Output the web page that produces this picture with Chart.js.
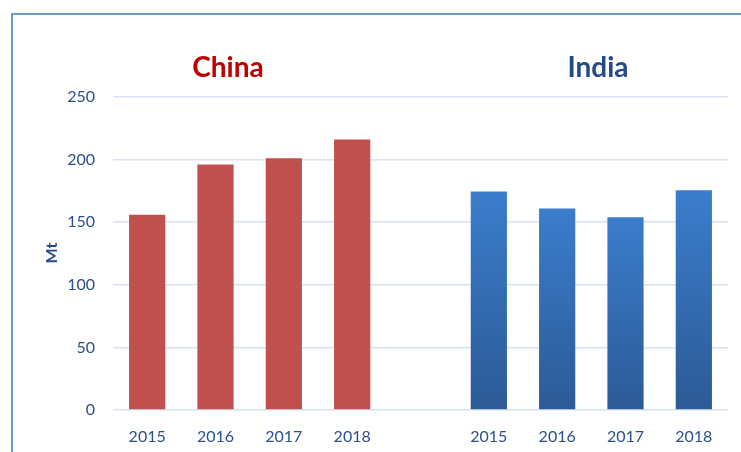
<!DOCTYPE html>
<html>
<head>
<meta charset="utf-8">
<script src="https://cdn.jsdelivr.net/npm/chart.js@4"></script>
<style>
  html, body { margin: 0; padding: 0; background: #fff; }
  #wrap { position: relative; width: 741px; height: 452px; overflow: hidden; }
  #frame { position: absolute; left: 11px; top: 13px; width: 800px; height: 500px;
           border-left: 2px solid #6F96CF; border-top: 2px solid #6F96CF; }
  canvas { position: absolute; left: 0; top: 0; }
</style>
</head>
<body>
<div id="wrap">
  <div id="frame"></div>
  <canvas id="chart" width="741" height="452"></canvas>
</div>
<script>
// --- data ---
const years = ['2015', '2016', '2017', '2018'];
const chinaValues = [156, 196, 201, 216];
const indiaValues = [174.5, 161, 154, 175.5];
const yTicks = [0, 50, 100, 150, 200, 250];

// 4 China slots, one empty gap, 4 India slots
const labels = [...years, '', ...years];
const chinaData = [...chinaValues, null, null, null, null, null];
const indiaData = [null, null, null, null, null, ...indiaValues];

const tickFont = { family: "Lato, 'Open Sans', sans-serif", size: 16 };
const tickColor = '#2A4F8C';

// blue bars fade from light top to darker bottom, per bar
function indiaFill(ctx) {
    const chart = ctx.chart;
    const y = chart.scales.y;
    if (!chart.chartArea || !y || ctx.raw == null) return '#3A7BC8';
    const top = y.getPixelForValue(ctx.raw);
    const bottom = y.getPixelForValue(0);
    const g = chart.ctx.createLinearGradient(0, top, 0, bottom);
    g.addColorStop(0, '#3B7DCC');
    g.addColorStop(1, '#2C5A96');
    return g;
}

// group titles and the rotated axis label
const textPlugin = {
    id: 'texts',
    afterDraw(chart) {
        const c = chart.ctx;
        c.save();
        c.font = "bold 28px Lato, sans-serif";
        c.textAlign = 'center';
        c.textBaseline = 'alphabetic';
        c.fillStyle = '#C00000';
        c.fillText('China', 228, 77);
        c.fillStyle = '#234B88';
        c.fillText('India', 598, 77);

        c.translate(57, 253);
        c.rotate(-Math.PI / 2);
        c.font = "bold 16px Lato, sans-serif";
        c.fillStyle = '#234B88';
        c.textBaseline = 'alphabetic';
        c.fillText('Mt', 0, 0);
        c.restore();
    }
};

new Chart(document.getElementById('chart').getContext('2d'), {
    type: 'bar',
    data: {
        labels: labels,
        datasets: [
            { label: 'China', data: chinaData, backgroundColor: '#C0504D',
              grouped: false, barPercentage: 0.53, categoryPercentage: 1 },
            { label: 'India', data: indiaData, backgroundColor: indiaFill,
              grouped: false, barPercentage: 0.53, categoryPercentage: 1 }
        ]
    },
    options: {
        responsive: false,
        animation: false,
        layout: { padding: { top: 97, right: 13, left: 0, bottom: 0 } },
        scales: {
            y: {
                min: 0, max: 250,
                afterBuildTicks: (s) => { s.ticks = yTicks.map(v => ({ value: v })); },
                afterFit: (s) => { s.width = 113; },
                grid: { color: '#D8E2F0', lineWidth: 1.5, drawTicks: false },
                border: { display: false },
                ticks: { color: tickColor, font: tickFont, padding: 18 }
            },
            x: {
                afterFit: (s) => { s.height = 42; },
                grid: { display: false },
                border: { display: false },
                ticks: { color: tickColor, font: tickFont, padding: 9, maxRotation: 0, autoSkip: false }
            }
        },
        plugins: {
            legend: { display: false },
            tooltip: { enabled: false }
        }
    },
    plugins: [textPlugin]
});
</script>
</body>
</html>
